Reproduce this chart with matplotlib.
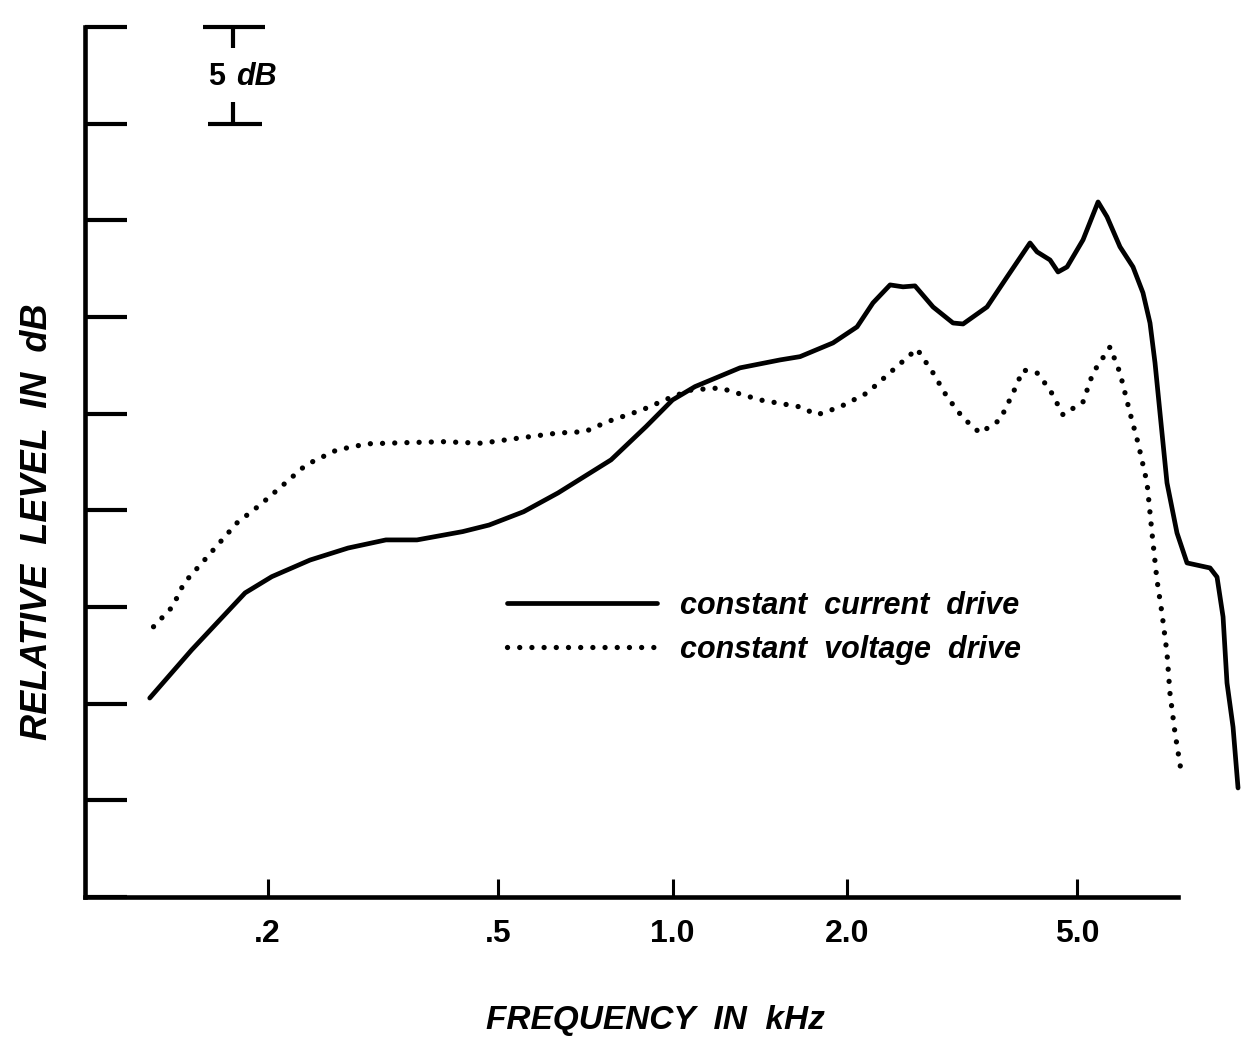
import matplotlib
matplotlib.use("Agg")
import matplotlib.pyplot as plt
import matplotlib.transforms as mtransforms
from matplotlib.ticker import NullLocator

# ---------------- data ----------------
freq_current = [0.1252, 0.1479, 0.1829, 0.2034, 0.2368, 0.2754, 0.3201, 0.3622,
                0.4343, 0.4824, 0.5534, 0.6344, 0.7831, 0.9000, 1.000, 1.0935,
                1.3076, 1.533, 1.660, 1.892, 2.082, 2.218, 2.374, 2.499, 2.621,
                2.816, 3.049, 3.173, 3.490, 3.779, 4.140, 4.257, 4.483, 4.628,
                4.797, 5.111, 5.426, 5.623, 5.920, 6.234, 6.486, 6.670, 6.804,
                6.940, 7.136, 7.425, 7.727, 8.467, 8.706, 8.917, 9.058, 9.278,
                9.464]
db_current = [10.29, 12.78, 15.73, 16.57, 17.43, 18.05, 18.47, 18.47,
              18.90, 19.24, 19.93, 20.90, 22.61, 24.33, 25.71, 26.40,
              27.37, 27.78, 27.95, 28.66, 29.49, 30.73, 31.66, 31.56, 31.61,
              30.52, 29.69, 29.64, 30.52, 32.07, 33.83, 33.37, 32.95, 32.33,
              32.59, 33.99, 35.95, 35.18, 33.63, 32.59, 31.25, 29.69, 27.63,
              25.04, 21.42, 18.83, 17.28, 17.02, 16.55, 14.49, 11.07, 8.79,
              5.64]

freq_voltage = [0.1271, 0.1371, 0.1435, 0.1548, 0.1669, 0.1771, 0.1941, 0.2127,
                0.2330, 0.2632, 0.2970, 0.3454, 0.4025, 0.4686, 0.5284, 0.6344,
                0.7063, 0.7727, 0.8857, 1.000, 1.0788, 1.208, 1.416, 1.660,
                1.776, 1.946, 2.167, 2.402, 2.642, 2.816, 2.977, 3.173, 3.394,
                3.675, 3.870, 4.027, 4.257, 4.483, 4.721, 5.111, 5.318, 5.690,
                5.920, 6.160, 6.360, 6.592, 6.723, 6.857, 6.994, 7.136, 7.220,
                7.367, 7.575]
db_voltage = [13.98, 15.02, 16.24, 17.35, 18.47, 19.35, 20.28, 21.31,
              22.35, 23.12, 23.44, 23.50, 23.55, 23.47, 23.69, 24.00,
              24.07, 24.59, 25.19, 25.88, 26.23, 26.33, 25.71, 25.35,
              24.94, 25.35, 26.07, 27.26, 28.35, 27.11, 25.87, 24.78, 24.00,
              24.68, 26.07, 27.26, 27.11, 26.23, 24.94, 25.61, 27.11, 28.45,
              27.11, 25.04, 23.49, 21.42, 18.83, 16.40, 14.69, 12.62, 10.55,
              8.48, 6.21]

series_labels = ["constant  current  drive", "constant  voltage  drive"]
xtick_values = [0.2, 0.5, 1.0, 2.0, 5.0]
xtick_labels = [".2", ".5", "1.0", "2.0", "5.0"]
ytick_values = [0, 5, 10, 15, 20, 25, 30, 35, 40, 45]
x_limits = [0.0968, 7.455]
y_limits = [0, 45]
scale_bar_db = [40, 45]

# ---------------- figure ----------------
W, H = 1242, 1037
fig = plt.figure(figsize=(W / 100, H / 100), dpi=100)
fig.patch.set_facecolor("white")
left_px, right_px, top_px, bottom_px = 85, 1178, 27, 897
ax = fig.add_axes([left_px / W, 1 - bottom_px / H,
                   (right_px - left_px) / W, (bottom_px - top_px) / H])

ax.set_xscale("log")
ax.set_xlim(*x_limits)
ax.set_ylim(*y_limits)

ax.plot(freq_current, db_current, color="black", lw=3.4,
        solid_joinstyle="round", solid_capstyle="round", clip_on=False,
        label=series_labels[0])
ax.plot(freq_voltage, db_voltage, color="black", lw=3.8,
        linestyle=(0, (0.01, 2.3)), dash_capstyle="round", clip_on=False,
        label=series_labels[1])

# spines
for s in ["top", "right"]:
    ax.spines[s].set_visible(False)
for s in ["left", "bottom"]:
    ax.spines[s].set_linewidth(3.3)
    ax.spines[s].set_capstyle("projecting")

# ticks
ax.xaxis.set_minor_locator(NullLocator())
ax.set_xticks(xtick_values)
ax.set_xticklabels(xtick_labels)
ax.set_yticks(ytick_values)
ax.set_yticklabels([])
ax.tick_params(axis="x", direction="in", length=13, width=2.2, pad=16,
               labelsize=23)
ax.tick_params(axis="y", direction="in", length=30, width=3.0)
for lab in ax.get_xticklabels():
    lab.set_fontfamily("Liberation Sans")
    lab.set_fontweight("bold")

# axis labels
label_font = dict(family="Liberation Sans", weight="bold", style="italic")
ax.set_xlabel("FREQUENCY  IN  kHz", va="center", size=24, **label_font)
ax.xaxis.set_label_coords((655 - left_px) / (right_px - left_px),
                          (bottom_px - 1020) / (bottom_px - top_px))
ax.set_ylabel("RELATIVE  LEVEL  IN  dB", va="center", size=26, **label_font)
ax.yaxis.set_label_coords((38 - left_px) / (right_px - left_px),
                          (bottom_px - 522) / (bottom_px - top_px))

# 5 dB scale bar (x in axes fraction, y in dB)
trans = mtransforms.blended_transform_factory(ax.transAxes, ax.transData)
span = right_px - left_px
def fx(px):
    return (px - left_px) / span
db_per_px = (y_limits[1] - y_limits[0]) / (bottom_px - top_px)
top_db, bot_db = scale_bar_db[1], scale_bar_db[0]
ax.plot([fx(203), fx(265)], [top_db, top_db], color="black", lw=3.0,
        transform=trans, clip_on=False, solid_capstyle="butt")
ax.plot([fx(233), fx(233)], [top_db, top_db - 21 * db_per_px], color="black",
        lw=3.0, transform=trans, clip_on=False, solid_capstyle="butt")
ax.plot([fx(208), fx(262)], [bot_db, bot_db], color="black", lw=3.0,
        transform=trans, clip_on=False, solid_capstyle="butt")
ax.plot([fx(233), fx(233)], [bot_db, bot_db + 22 * db_per_px], color="black",
        lw=3.0, transform=trans, clip_on=False, solid_capstyle="butt")
mid_db = (bottom_px - 77.5) * db_per_px
ax.text(fx(217), mid_db, "5", transform=trans, ha="center", va="center",
        family="Liberation Sans", weight="bold", size=22)
ax.text(fx(236), mid_db, "dB", transform=trans, ha="left", va="center",
        family="Liberation Sans", weight="bold", style="italic", size=22)

# legend
leg = ax.legend(loc="center left",
                bbox_to_anchor=(fx(507), (bottom_px - 628) / (bottom_px - top_px)),
                frameon=False, borderpad=0, borderaxespad=0,
                handlelength=4.9, handletextpad=0.75, labelspacing=0.45,
                prop=dict(family="Liberation Sans", weight="bold",
                          style="italic", size=22))

fig.savefig("out.png", dpi=100, facecolor="white")
